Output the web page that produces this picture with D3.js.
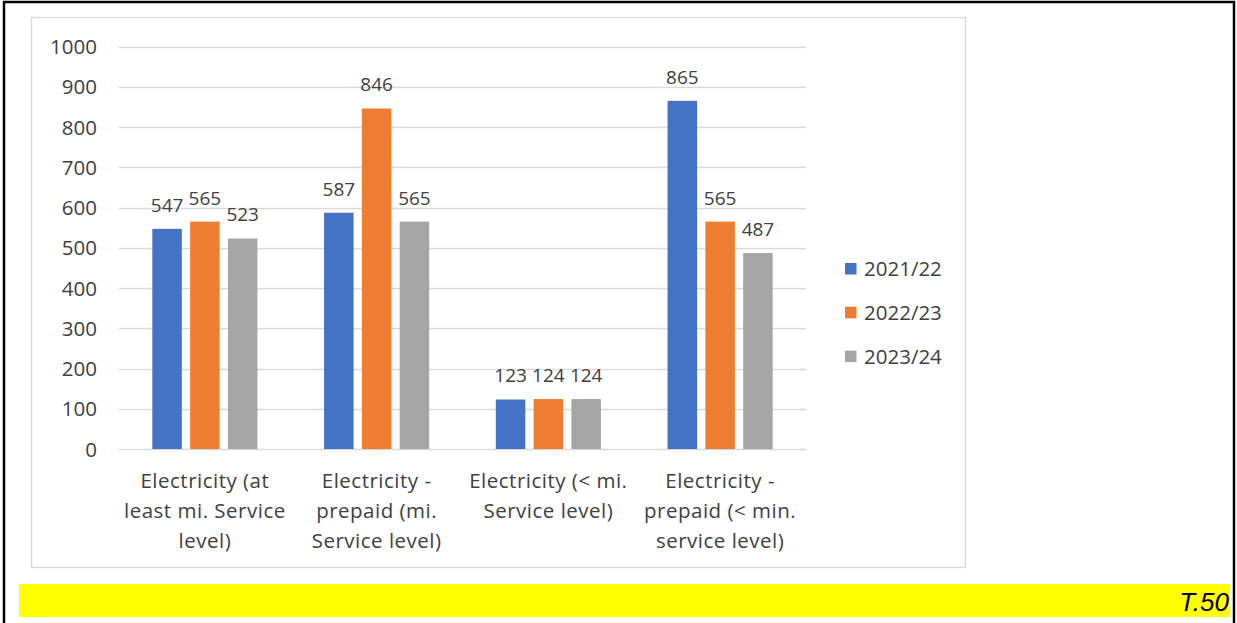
<!DOCTYPE html>
<html>
<head>
<meta charset="utf-8">
<script src="https://cdn.jsdelivr.net/npm/d3@7"></script>
<style>
  html, body { margin: 0; padding: 0; background: #fff; }
  svg { display: block; }
</style>
</head>
<body>
<svg id="chart" width="1237" height="623"></svg>
<script>
// Categories, series and tick values
const categories = [
  ["Electricity (at", "least mi. Service", "level)"],
  ["Electricity -", "prepaid (mi.", "Service level)"],
  ["Electricity (< mi.", "Service level)"],
  ["Electricity -", "prepaid (< min.", "service level)"]
];
const seriesNames = ["2021/22", "2022/23", "2023/24"];
const values2021 = [547, 587, 123, 865];
const values2022 = [565, 846, 124, 565];
const values2023 = [523, 565, 124, 487];
const yTicks = [0, 100, 200, 300, 400, 500, 600, 700, 800, 900, 1000];
const colors = ["#4472C4", "#ED7D31", "#A5A5A5"];
const tableLabel = "T.50";

const series = [values2021, values2022, values2023];
const font = "'Open Sans', 'Liberation Sans', sans-serif";
const fs = 20.5;
const textColor = "#404040";

const svg = d3.select("#chart");

// Page frame
svg.append("path")
  .attr("d", "M4,623 V2 H1234 V623")
  .attr("fill", "none").attr("stroke", "#000").attr("stroke-width", 2.5);

// Chart area frame
svg.append("rect")
  .attr("x", 31.5).attr("y", 17.5).attr("width", 934).attr("height", 550)
  .attr("fill", "#fff").attr("stroke", "#D9D9D9").attr("stroke-width", 1.5);

// Scales
const x0 = d3.scaleBand().domain(d3.range(categories.length)).range([119, 806]);
const y = d3.scaleLinear().domain([0, 1000]).range([449, 46.5]);
const barW = 29.5, barStep = 37.8;

// Gridlines
svg.append("g").selectAll("line").data(yTicks).join("line")
  .attr("x1", 119).attr("x2", 806)
  .attr("y1", d => Math.round(y(d)) + 0.5).attr("y2", d => Math.round(y(d)) + 0.5)
  .attr("stroke", "#D9D9D9").attr("stroke-width", 1.3);

// Y axis labels
const yAxis = d3.axisLeft(y).tickValues(yTicks).tickFormat(d3.format("d"))
  .tickSize(0).tickPadding(0);
const yg = svg.append("g").attr("transform", "translate(97,0)").call(yAxis);
yg.select(".domain").remove();
yg.selectAll("text")
  .attr("font-family", font).attr("font-size", fs).attr("fill", textColor)
  .attr("dy", "0.35em");

// Bars and value labels
categories.forEach((c, i) => {
  const cx = x0(i) + x0.bandwidth() / 2;
  series.forEach((vals, s) => {
    const bx = cx + (s - 1) * barStep - barW / 2;
    svg.append("rect")
      .attr("x", bx).attr("y", y(vals[i]))
      .attr("width", barW).attr("height", y(0) - y(vals[i]))
      .attr("fill", colors[s]);
    svg.append("text")
      .attr("x", bx + barW / 2).attr("y", y(vals[i]) - 17)
      .attr("text-anchor", "middle")
      .attr("font-family", font).attr("font-size", 19).attr("fill", textColor)
      .text(vals[i]);
  });
  // Category label lines
  const t = svg.append("text")
    .attr("text-anchor", "middle").attr("letter-spacing", 0.5)
    .attr("font-family", font).attr("font-size", fs).attr("fill", textColor);
  c.forEach((line, k) => {
    t.append("tspan").attr("x", cx).attr("y", 488 + k * 30).text(line);
  });
});

// Legend
const legend = svg.append("g");
seriesNames.forEach((name, s) => {
  const ly = 269 + s * 43.8;
  legend.append("rect")
    .attr("x", 845).attr("y", ly - 6).attr("width", 11.5).attr("height", 11.5)
    .attr("fill", colors[s]);
  legend.append("text")
    .attr("x", 864).attr("y", ly).attr("dy", "0.35em")
    .attr("font-family", font).attr("font-size", fs).attr("fill", textColor)
    .text(name);
});

// Table tag
svg.append("rect")
  .attr("x", 19).attr("y", 584).attr("width", 1211).attr("height", 33)
  .attr("fill", "#FFFF00");
svg.append("text")
  .attr("x", 1229).attr("y", 611).attr("text-anchor", "end")
  .attr("font-family", "'Liberation Sans', Arial, sans-serif")
  .attr("font-style", "italic").attr("font-size", 26).attr("fill", "#000")
  .text(tableLabel);
</script>
</body>
</html>
